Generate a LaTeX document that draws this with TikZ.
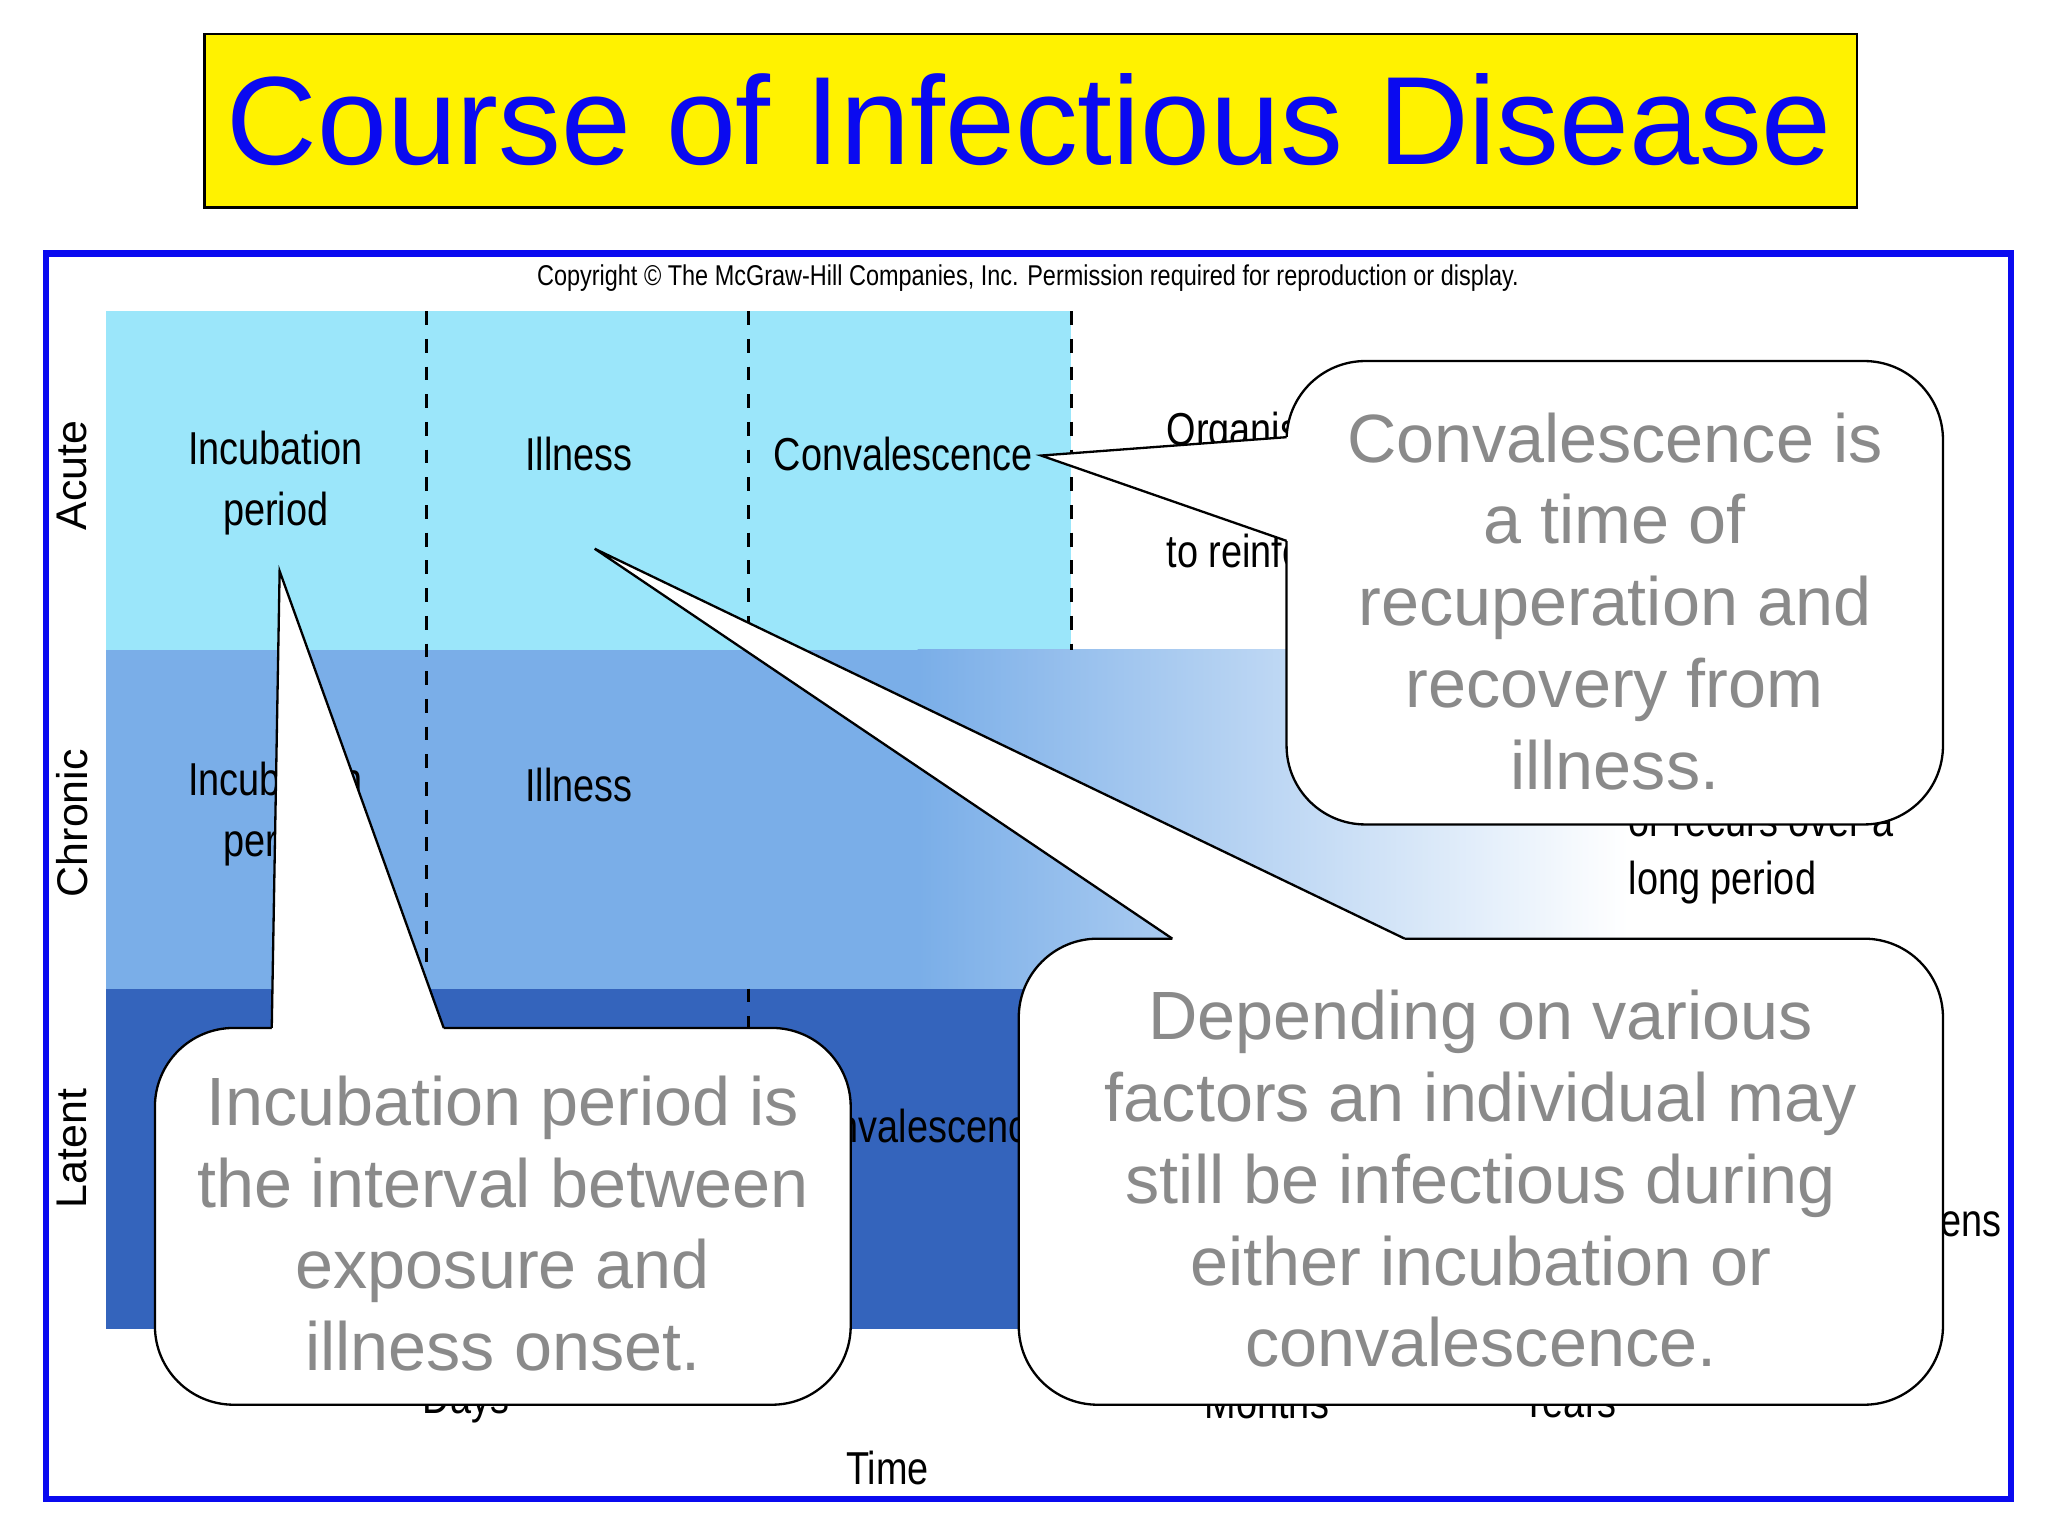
\documentclass[tikz,border=0pt]{standalone}
\usepackage{fontspec}
\setmainfont{Liberation Sans}
\newcommand{\nar}[1]{\scalebox{0.82}[1]{#1}}
\definecolor{acute}{HTML}{9BE6FA}
\definecolor{chron}{HTML}{7AAEE8}
\definecolor{lat}{HTML}{3464BC}
\definecolor{calltxt}{HTML}{8A8A8A}
\definecolor{ttl}{HTML}{0A0AF0}
\tikzset{
 lbl/.style={font=\fontsize{10}{13.2}\selectfont, align=center, inner sep=0},
 axl/.style={font=\fontsize{9.3}{11}\selectfont, rotate=90, inner sep=0},
 ctxt/.style={font=\fontsize{14.8}{17.7}\selectfont, text=calltxt, align=center, inner sep=0},
 cbox/.style={draw=black, line width=0.5pt, fill=white, rounded corners=0.6cm},
 dsh/.style={dashed, line width=0.6pt, dash pattern=on 3pt off 3pt}
}
\begin{document}
\begin{tikzpicture}[x=0.01cm,y=-0.01cm]
\useasboundingbox (0,0) rectangle (1560,1170);
\fill[white] (0,0) rectangle (1560,1170);
% title
\node[draw=black, fill=yellow, minimum width=12.58cm, minimum height=1.32cm, anchor=north west, inner sep=0, line width=0.5pt] (title) at (155,25) {};
\node[font=\fontsize{27.2}{32}\selectfont, text=ttl] (titletext) at (784,91) {Course of Infectious Disease};
% frame
\draw[ttl, line width=1.4pt] (35,193) rectangle (1532,1142);
\node[font=\fontsize{6.2}{7}\selectfont] (copy) at (783,212) {\nar{Copyright © The McGraw-Hill Companies, Inc. Permission required for reproduction or display.}};
% bands
\fill[acute] (81,237) rectangle (816,495);
\fill[chron] (81,495) rectangle (700,753);
\shade[left color=chron, right color=white] (699,495) rectangle (1240,753);
\fill[lat] (81,753) rectangle (1000,1012);
\draw[dsh] (325,237) -- (325,740);
\draw[dsh] (570,237) -- (570,495);
\draw[dsh] (570,753) -- (570,790);
\draw[dsh] (816,237) -- (816,495);
% axis labels
\node[axl] (acute) at (55,362) {Acute};
\node[axl] (chronic) at (55,627) {Chronic};
\node[axl] (latent) at (55,875) {Latent};
% band texts
\node[lbl] (a1) at (210,368) {\nar{Incubation}\\\nar{period}};
\node[lbl] (a2) at (441,346) {\nar{Illness}};
\node[lbl] (a3) at (688,346) {\nar{Convalescence}};
\node[lbl, anchor=west] (a4) at (888,330) {\nar{Organisms}};
\node[lbl, anchor=west] (a5) at (888,420) {\nar{to reinfect}};
\node[lbl] (c1) at (210,620) {\nar{Incubation}\\\nar{period}};
\node[lbl] (c2) at (441,598) {\nar{Illness}};
\node[lbl, anchor=west] (c3) at (1240,628) {\nar{or recurs over a}};
\node[lbl, anchor=west] (c4) at (1240,672) {\nar{long period}};
\node[lbl] (l1) at (700,858) {\nar{Convalescence}};
\node[lbl, anchor=east] (l2) at (1525,933) {\nar{happens}};
\node[lbl] (x1) at (355,1068) {\nar{Days}};
\node[lbl] (x2) at (965,1068) {\nar{Months}};
\node[lbl] (x3) at (1195,1068) {\nar{Years}};
\node[lbl] (x4) at (676,1118) {\nar{Time}};
% callout 1
\draw[cbox] (980,275) rectangle (1480,628);
\fill[white] (793,347) -- (980,333) -- (982,333) -- (982,412) -- (980,412) -- cycle;
\draw[line width=0.5pt] (980,333) -- (793,347) -- (980,412);
\node[ctxt] (t1) at (1230,458) {Convalescence is\\a time of\\recuperation and\\recovery from\\illness.};
% callout 3
\draw[cbox] (776,715) rectangle (1480,1070);
\fill[white] (453,418) -- (893,715) -- (893,718) -- (1070,718) -- (1070,715) -- cycle;
\draw[line width=0.5pt] (893,715) -- (453,418) -- (1070,715);
\node[ctxt] (t3) at (1128,898) {Depending on various\\factors an individual may\\still be infectious during\\either incubation or\\convalescence.};
% callout 2
\draw[cbox] (118,783) rectangle (648,1070);
\fill[white] (213,435) -- (207,783) -- (207,786) -- (338,786) -- (338,783) -- cycle;
\draw[line width=0.5pt] (207,783) -- (213,435) -- (338,783);
\node[ctxt] (t2) at (383,932) {Incubation period is\\the interval between\\exposure and\\illness onset.};
\end{tikzpicture}
\end{document}
